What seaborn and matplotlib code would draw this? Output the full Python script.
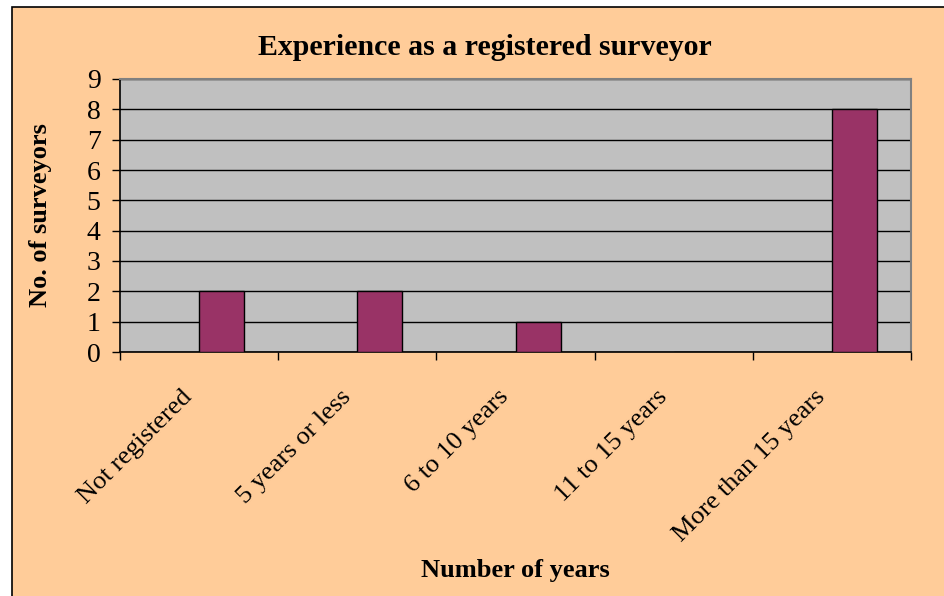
import matplotlib
matplotlib.use("Agg")
import matplotlib.pyplot as plt
import pandas as pd
import seaborn as sns
from matplotlib.patches import Rectangle
from matplotlib.transforms import ScaledTranslation

# data
categories = ["Not registered", "5 years or less", "6 to 10 years",
              "11 to 15 years", "More than 15 years"]
surveyors = [2, 2, 1, 0, 8]
y_ticks = list(range(0, 10))

df = pd.DataFrame({"years": categories, "count": surveyors, "series": "Surveyors"})

sns.set_theme(style="white")
plt.rcParams["font.family"] = ["Liberation Serif", "DejaVu Serif"]

fig = plt.figure(figsize=(9.45, 5.96), dpi=100)
fig.patch.set_facecolor("white")
# outer chart area (peach, black border on left/top only is visible)
fig.patches.append(Rectangle((12 / 945, -0.1), 1.2, 1.1 - 7 / 596,
                             transform=fig.transFigure,
                             facecolor="#FFCC99", edgecolor="black", linewidth=1.2,
                             zorder=-10))

ax = fig.add_axes([120 / 945, 1 - 352 / 596, (911 - 120) / 945, (352 - 79) / 596])
ax.set_facecolor("#C0C0C0")

# empty first series keeps Excel-style offset of the visible bars
sns.barplot(data=df, x="years", y="count", hue="series",
            hue_order=["blank", "Surveyors"], order=categories,
            palette={"blank": "#9999FF", "Surveyors": "#993366"},
            saturation=1, width=0.57, dodge=True, edgecolor="black", linewidth=1,
            legend=False, ax=ax, zorder=3)

ax.set_xlim(-0.5, len(categories) - 0.5)
ax.set_ylim(0, 9)
ax.set_yticks(y_ticks)
ax.yaxis.grid(True, color="black", linewidth=1)
ax.set_axisbelow(True)
ax.tick_params(axis="y", which="major", direction="out", length=6, width=1,
               color="black", left=True, labelsize=20, pad=8, labelcolor="black")

ax.set_xticks(range(len(categories)))
ax.set_xticklabels(categories, rotation=45, ha="right", va="center",
                   rotation_mode="anchor", fontsize=19)
ax.tick_params(axis="x", which="major", length=0, pad=30, labelcolor="black")
shift = ScaledTranslation(-10 / 100, 0, fig.dpi_scale_trans)
for lab in ax.get_xticklabels():
    lab.set_transform(lab.get_transform() + shift)
ax.set_xticks([i - 0.5 for i in range(len(categories) + 1)], minor=True)
ax.tick_params(axis="x", which="minor", direction="out", length=6, width=1,
               color="black", bottom=True)

for side in ["left", "bottom"]:
    ax.spines[side].set_color("black")
    ax.spines[side].set_linewidth(1.2)
for side in ["top", "right"]:
    ax.spines[side].set_color("#808080")
    ax.spines[side].set_linewidth(1.5)

ax.set_ylabel("No. of surveyors", fontsize=19, fontweight="bold", color="black")
ax.yaxis.set_label_coords(-0.086, 0.5)
ax.set_xlabel("Number of years", fontsize=19, fontweight="bold", color="black")
ax.xaxis.set_label_coords(0.5, -0.76)

fig.text(485 / 945, 1 - 55 / 596, "Experience as a registered surveyor",
         ha="center", va="baseline", fontsize=21.5, fontweight="bold", color="black")

fig.savefig("out.png", dpi=100, facecolor=fig.get_facecolor())
